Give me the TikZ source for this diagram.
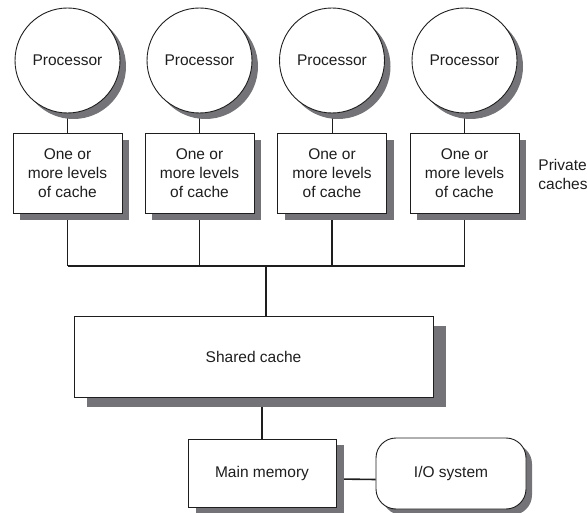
\documentclass[tikz,border=0pt]{standalone}
\usepackage{fontspec}
\setmainfont{Liberation Sans}
\usepackage{tikz}
\usetikzlibrary{shadows}
\usetikzlibrary{calc}
\usetikzlibrary{backgrounds}

\definecolor{shadowgray}{RGB}{116,116,120}
\definecolor{inkgray}{RGB}{30,30,30}

\tikzset{
    shade6/.style={drop shadow={shadow xshift=6pt, shadow yshift=-6pt, fill=shadowgray, opacity=1}},
    proc/.style={draw=inkgray, circle, fill=white, minimum size=105pt, inner sep=0pt, shade6},
    cachebox/.style={draw=inkgray, fill=white, minimum width=109pt, minimum height=80pt, inner sep=0pt, align=center,
        drop shadow={shadow xshift=7pt, shadow yshift=-7pt, fill=shadowgray, opacity=1}},
    sharedbox/.style={draw=inkgray, fill=white, minimum width=359pt, minimum height=81pt, inner sep=0pt,
        drop shadow={shadow xshift=13pt, shadow yshift=-10pt, fill=shadowgray, opacity=1}},
    membox/.style={draw=inkgray, fill=white, minimum width=148pt, minimum height=68pt, inner sep=0pt,
        drop shadow={shadow xshift=8pt, shadow yshift=-6pt, fill=shadowgray, opacity=1}},
    iobox/.style={draw=inkgray, fill=white, rounded corners=20pt, minimum width=150pt, minimum height=71pt, inner sep=0pt, shade6},
    bus/.style={draw=inkgray, line width=1.6pt},
    stub/.style={draw=inkgray, line width=0.8pt}
}

\begin{document}
\begin{tikzpicture}[x=1pt, y=-1pt, font=\fontsize{15.5}{19}\selectfont, text=inkgray, line width=0.9pt]
        \useasboundingbox (0,0) rectangle (587,513);
        \begin{scope}

            \foreach \i/\x in {1/67.5, 2/199.5, 3/332, 4/464.5} {
                \node[proc] (p\i) at (\x,60.5) {Processor};
                \node[cachebox] (c\i) at (\x,173) {One or\\more levels\\of cache};
            }
            \node[align=left, anchor=west, inner sep=0pt] (priv) at (538,174) {Private\\caches};

            \node[sharedbox] (shared) at (253.5,356.5) {Shared cache};
            \node[membox] (mem) at (262,473) {Main memory};
            \node[iobox] (io) at (451,473.5) {I/O system};

            \coordinate (busl) at (67.5,266);
            \coordinate (busr) at (464.5,266);
            \coordinate (busm) at (266,266);

        \end{scope}

        \begin{pgfonlayer}{background}
            \foreach \i in {1,...,4} {
                \draw[stub] (p\i) -- (c\i);
                \draw[bus] (c\i.south) -- (c\i.south |- busl);
            }
            \draw[bus] (busl) -- (busr);
            \draw[bus] (busm) -- (busm |- shared.north);
            \draw[bus] (shared.south -| mem.north) -- (mem.north);
            \draw[bus] ([yshift=-6pt]mem.east) -- ([yshift=-6pt]io.west);
        \end{pgfonlayer}
\end{tikzpicture}
\end{document}
